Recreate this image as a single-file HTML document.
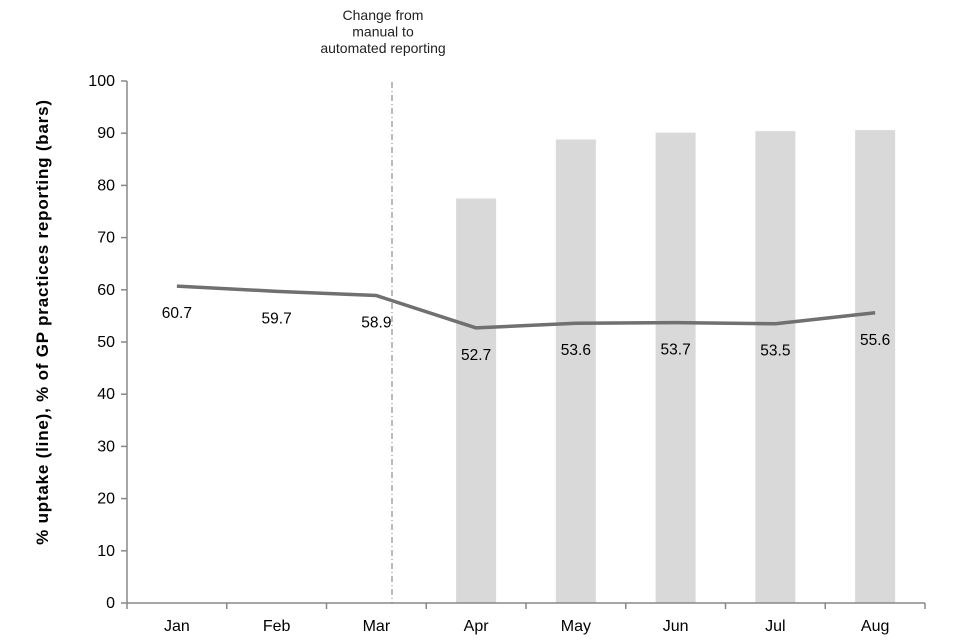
<!DOCTYPE html>
<html><head><meta charset="utf-8"><style>
body{margin:0;background:#fff;}
svg{display:block;font-family:"Liberation Sans",Arial,sans-serif;}
</style></head><body>
<svg id="chart" width="960" height="640">
<g id="bars"></g>
<g id="axes"></g>
<g id="line"></g>
<line x1="392" y1="82" x2="392" y2="603" stroke="#777" stroke-width="1" stroke-dasharray="6,3,1,3"/>
<text x="383" y="20" text-anchor="middle" font-size="14" fill="#222"><tspan x="383" dy="0">Change from</tspan><tspan x="383" dy="16.5">manual to</tspan><tspan x="383" dy="16.5">automated reporting</tspan></text>
<text transform="translate(48,322) rotate(-90)" text-anchor="middle" font-size="17" font-weight="bold" letter-spacing="0.8" fill="#000">% uptake (line), % of GP practices  reporting (bars)</text>
</svg>
<script>
const categories = ["Jan","Feb","Mar","Apr","May","Jun","Jul","Aug"];
const uptake = [60.7,59.7,58.9,52.7,53.6,53.7,53.5,55.6];
const reporting = [null,null,null,77.5,88.8,90.1,90.4,90.6];
const yTicks = [0,10,20,30,40,50,60,70,80,90,100];

const NS="http://www.w3.org/2000/svg";
const x0=127,x1=925,yBase=603,yTop=81;
const bw=(x1-x0)/categories.length;
const xC=i=>x0+bw*(i+0.5);
const yS=v=>yBase-(v/100)*(yBase-yTop);
function mk(tag,attrs,parent){const e=document.createElementNS(NS,tag);for(const k in attrs)e.setAttribute(k,attrs[k]);parent.appendChild(e);return e;}
const gB=document.getElementById('bars'),gA=document.getElementById('axes'),gL=document.getElementById('line');

reporting.forEach((v,i)=>{if(v==null)return;
 const r=mk('rect',{x:xC(i)-20,y:yS(v),width:40,height:yBase-yS(v),fill:'#d9d9d9'},gB);
 
 
});

let ax=mk('line',{x1:x0,y1:yTop,x2:x0,y2:yBase,stroke:'#888','stroke-width':1.5},gA);


let bx=mk('line',{x1:x0,y1:yBase,x2:x1,y2:yBase,stroke:'#888','stroke-width':1.5},gA);


yTicks.forEach(t=>{
 mk('line',{x1:x0-6,y1:yS(t),x2:x0,y2:yS(t),stroke:'#888','stroke-width':1.5},gA);
 const tx=mk('text',{x:x0-12,y:yS(t)+5,'text-anchor':'end','font-size':16,fill:'#000'},gA);
 tx.textContent=t;
 
 
});
for(let i=0;i<=categories.length;i++){
 mk('line',{x1:x0+bw*i,y1:yBase,x2:x0+bw*i,y2:yBase+6,stroke:'#888','stroke-width':1.5},gA);
}
categories.forEach((c,i)=>{
 const tx=mk('text',{x:xC(i),y:631,'text-anchor':'middle','font-size':16,fill:'#000'},gA);
 tx.textContent=c;
 
 
});

const pts=uptake.map((v,i)=>xC(i)+','+yS(v)).join(' ');
const pl=mk('polyline',{points:pts,fill:'none',stroke:'#707070','stroke-width':3.5,'stroke-linejoin':'round'},gL);


uptake.forEach((v,i)=>{
 const tx=mk('text',{x:xC(i),y:yS(v)+32,'text-anchor':'middle','font-size':15.5,fill:'#000'},gL);
 tx.textContent=v.toFixed(1);
 
 
});
</script>
</body></html>
